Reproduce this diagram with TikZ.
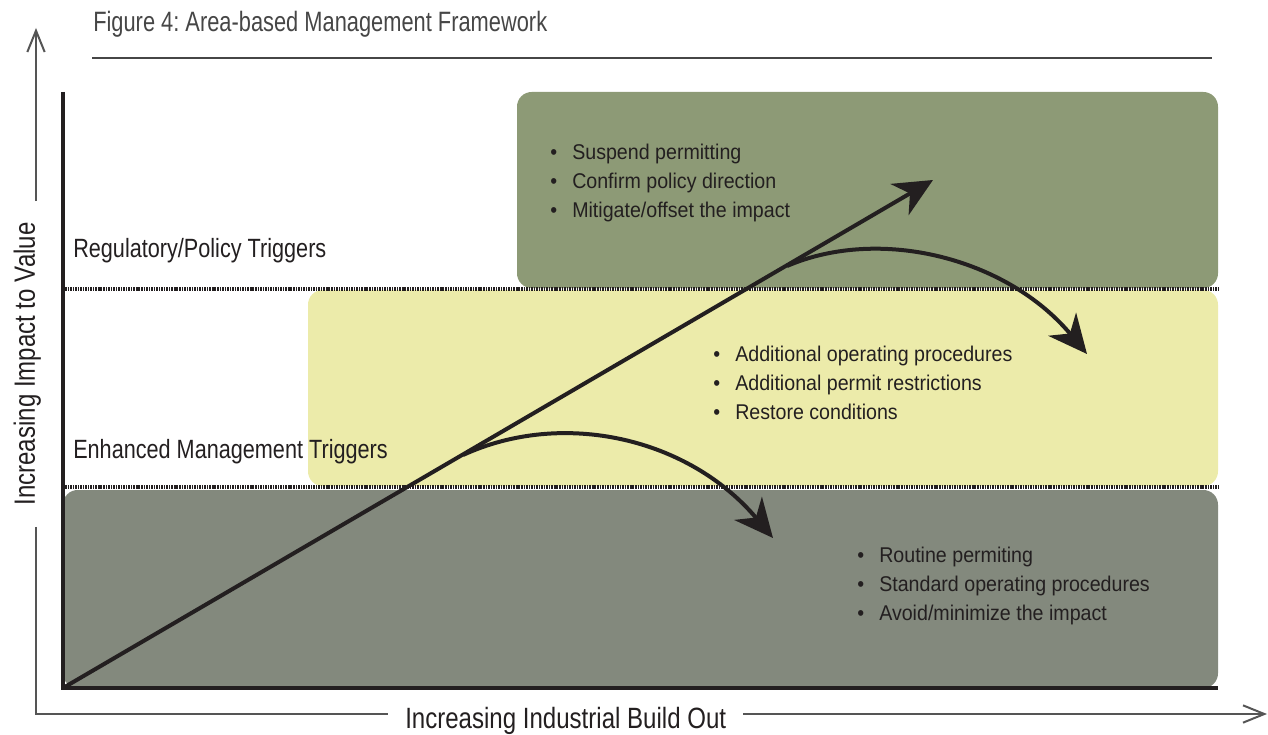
\documentclass[tikz,border=0pt]{standalone}
\usepackage{fontspec}
\setmainfont{Liberation Sans}
\newfontfamily\narrowfont[FakeStretch=0.82]{Liberation Sans}
\newfontfamily\listfont[FakeStretch=0.92]{Liberation Sans}
\newfontfamily\captionfont[FakeStretch=0.78]{Liberation Sans}
\usetikzlibrary{arrows.meta,calc}
\frenchspacing

\definecolor{bandgray}{RGB}{131,137,125}
\definecolor{bandyellow}{RGB}{236,235,170}
\definecolor{bandgreen}{RGB}{141,154,118}
\definecolor{inkdark}{RGB}{35,31,32}
\definecolor{axisgray}{RGB}{85,85,85}
\definecolor{titlegray}{RGB}{70,70,70}

\newcommand{\bitem}[1]{\makebox[16.5pt][l]{\textbullet}#1}

\begin{document}
\begin{tikzpicture}[x=0.75pt,y=0.75pt,yscale=-1,xscale=1,
    band/.style={rounded corners=11pt},
    trigger line/.style={line width=3pt, color=inkdark, dash pattern=on 1.2pt off 0.7pt},
    axis line/.style={line width=1.5pt, color=axisgray},
    axis tip/.style={-{Straight Barb[length=16pt,width=13pt]}},
    flow arrow/.style={line width=3pt, color=inkdark, -{Stealth[length=29pt,width=27pt,inset=9pt]}},
    level label/.style={anchor=base west, inner sep=0.75pt, text=inkdark, font=\narrowfont\fontsize{19.8pt}{24pt}\selectfont},
    axis label/.style={inner sep=0.75pt, text=inkdark, font=\narrowfont\fontsize{22pt}{26pt}\selectfont},
    bullet list/.style={anchor=north west, inner sep=0.75pt, align=left, text=inkdark, font=\listfont\fontsize{16pt}{21.75pt}\selectfont}]
  \useasboundingbox (0,0) rectangle (1268,735);

  \coordinate (yorigin) at (36,714);
  \coordinate (ytip) at (36,28);
  \coordinate (xtip) at (1267,714);
  \coordinate (corner) at (63,688);
  \coordinate (topleft) at (63,92);
  \coordinate (bottomright) at (1218,688);
  \coordinate (growth) at (933,180);
  \coordinate (splitlow) at (463,455);
  \coordinate (droplow) at (773,538);
  \coordinate (splithigh) at (787,266);
  \coordinate (drophigh) at (1087,354);
  \coordinate (ruleend) at (1212,58);

  % bands
  \fill [band, bandgray]   (63,490) rectangle (1218,688);
  \fill [band, bandyellow] (308,290) rectangle (1218,486);
  \fill [band, bandgreen]  (517,92) rectangle (1218,288);
  \draw [trigger line] (65,289) -- (1218,289);
  \draw [trigger line] (65,487) -- (1218,487);

  % inner axes and arrows
  \draw [line width=3pt, inkdark] (topleft) -- (corner) -- (bottomright);
  \draw [flow arrow] (corner) -- (growth);
  \draw [flow arrow] (splitlow) .. controls (563,409) and (689,438) .. (droplow);
  \draw [flow arrow] (splithigh) .. controls (880,226) and (1007,258) .. (drophigh);

  % texts
  \node [anchor=base west, inner sep=0.75pt, text=titlegray, font=\captionfont\fontsize{21pt}{24pt}\selectfont] (caption) at (92,32) {Figure 4: Area-based Management Framework};
  \node [level label] (regulatory) at (72,257) {Regulatory/Policy Triggers};
  \node [level label] (enhanced) at (72,458) {Enhanced Management Triggers};
  \node [bullet list] (suspend) at (549,143) {\bitem{Suspend permitting}\\\bitem{Confirm policy direction}\\\bitem{Mitigate/offset the impact}};
  \node [bullet list] (additional) at (712,345) {\bitem{Additional operating procedures}\\\bitem{Additional permit restrictions}\\\bitem{Restore conditions}};
  \node [bullet list] (routine) at (856,546) {\bitem{Routine permiting}\\\bitem{Standard operating procedures}\\\bitem{Avoid/minimize the impact}};
  \node [axis label, anchor=base west] (buildout) at (404,728) {Increasing Industrial Build Out};
  \node [axis label, rotate=90, anchor=base] (impact) at (35,364) {Increasing Impact to Value};

  % outer axes
  \draw [line width=2pt, titlegray] (caption.west |- ruleend) -- (ruleend);
  \draw [axis line, shorten <=15pt, shorten >=12pt] (yorigin |- impact.west) -- (yorigin) -- (yorigin -| buildout.west);
  \draw [axis line, axis tip, shorten <=12pt] (yorigin -| buildout.east) -- (xtip);
  \draw [axis line, axis tip, shorten <=15pt] (yorigin |- impact.east) -- (ytip);
\end{tikzpicture}
\end{document}
